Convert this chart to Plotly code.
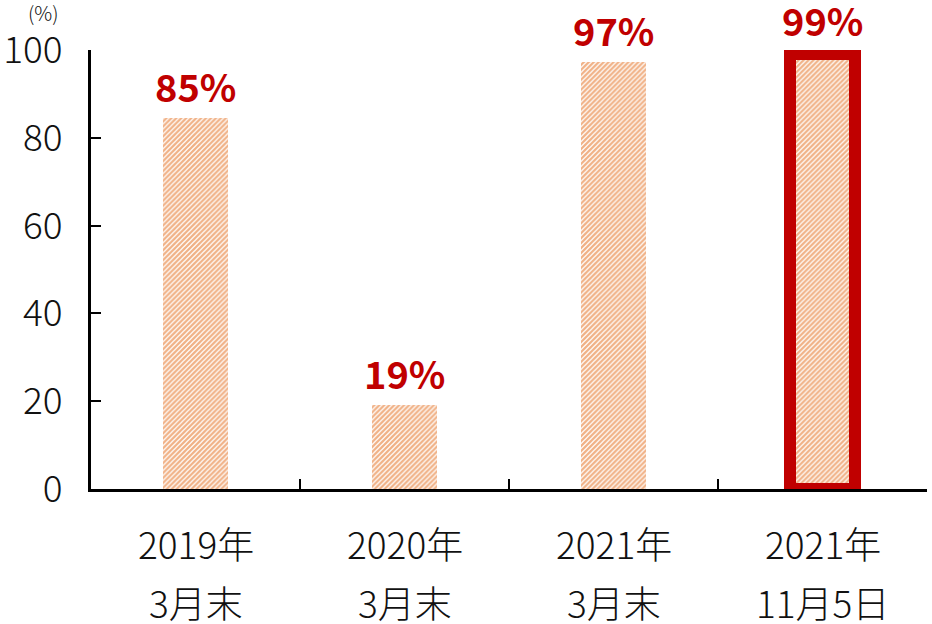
import plotly.graph_objects as go

categories = ["c2019", "c2020", "c2021", "c2021b"]
line1 = ["2019年", "2020年", "2021年", "2021年"]
line2 = ["3月末", "3月末", "3月末", "11月5日"]
values = [84.6, 19.1, 97.3, 99.0]
value_labels = ["85%", "19%", "97%", "99%"]
y_ticks = [0, 20, 40, 60, 80, 100]
highlight = [False, False, False, True]

FONT = "Noto Sans CJK JP"
RED = "#C00000"
ORANGE = "#E2640E"

fig = go.Figure()
fig.add_trace(go.Bar(
    x=categories, y=values, width=0.31,
    marker=dict(
        color="white",
        pattern=dict(shape="/", fgcolor=ORANGE, bgcolor="white", size=3.5, solidity=0.65, fillmode="overlay"),
        line=dict(color=[RED if h else "rgba(0,0,0,0)" for h in highlight],
                  width=[12 if h else 0 for h in highlight]),
    ),
    hoverinfo="skip",
))

annotations = []
for c, v, t, h in zip(categories, values, value_labels, highlight):
    annotations.append(dict(x=c, y=v, xref="x", yref="y", text=f"<b>{t}</b>", showarrow=False,
                            yanchor="bottom", yshift=5 if h else 3,
                            font=dict(family=FONT, size=38, color=RED)))
for c, a, b in zip(categories, line1, line2):
    annotations.append(dict(x=c, y=0, xref="x", yref="y", text=a, showarrow=False,
                            yanchor="middle", yshift=-54, font=dict(family=FONT, size=37, color="#111", weight=300)))
    annotations.append(dict(x=c, y=0, xref="x", yref="y", text=b, showarrow=False,
                            yanchor="middle", yshift=-113, font=dict(family=FONT, size=37, color="#111", weight=300)))
annotations.append(dict(x=0, y=1, xref="paper", yref="paper", xanchor="center", yanchor="middle",
                        xshift=-48, yshift=38, text="(%)", showarrow=False,
                        font=dict(family=FONT, size=20, color="#111", weight=300)))

fig.update_layout(
    width=932, height=624,
    margin=dict(l=91, r=5, t=50, b=135, autoexpand=False),
    paper_bgcolor="white", plot_bgcolor="white",
    showlegend=False, bargap=0,
    annotations=annotations,
    font=dict(family=FONT, color="#111"),
)
fig.update_xaxes(
    type="category", range=[-0.5, 3.5], showticklabels=False, automargin=False,
    tickson="boundaries", ticks="inside", ticklen=10, tickwidth=2, tickcolor="black",
    showline=True, linewidth=3, linecolor="black", showgrid=False, zeroline=False,
)
fig.update_yaxes(
    range=[0, 100], tickvals=y_ticks, ticks="inside", ticklen=10, tickwidth=2, tickcolor="black",
    showline=True, linewidth=3, linecolor="black", showgrid=False, zeroline=False, automargin=False,
    tickfont=dict(family=FONT, size=37, color="#111", weight=300), ticklabelstandoff=18,
)
fig.write_html("out.html", config={"displayModeBar": False},
               post_script="document.body.style.margin='0';")
